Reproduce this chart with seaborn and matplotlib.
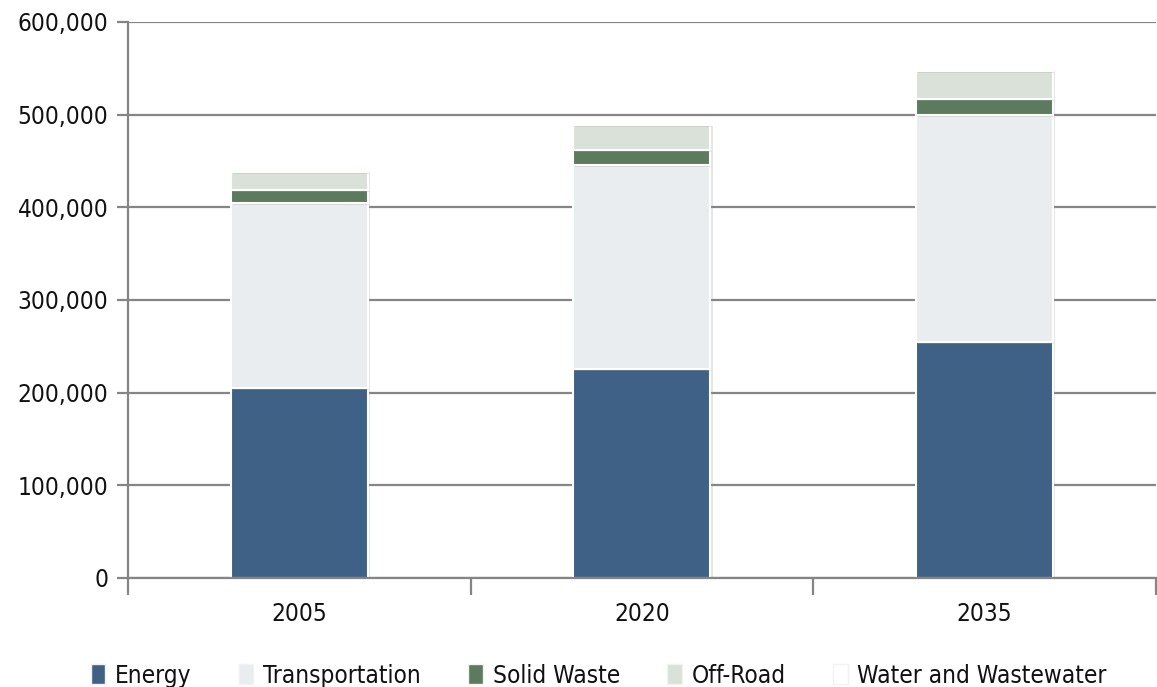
import matplotlib
matplotlib.use("Agg")
import matplotlib.pyplot as plt
import matplotlib.patheffects as pe
from matplotlib.ticker import FuncFormatter, FixedLocator
from matplotlib.patches import Patch
import seaborn as sns
import pandas as pd

# [Data]=========================================================================
years = ["2005", "2020", "2035"]
sectors = ["Energy", "Transportation", "Solid Waste", "Off-Road", "Water and Wastewater"]
energy = [205000, 225500, 254700]
transportation = [199500, 220500, 245300]
solid_waste = [14000, 16000, 17000]
off_road = [20000, 26500, 30500]
water = [1500, 1500, 1500]
colors = ["#3f6186", "#e9edf0", "#5c7a5e", "#d9e1d8", "#ffffff"]

values = [energy, transportation, solid_waste, off_road, water]

# [Plot]=========================================================================
sns.set_style("white")
plt.rcParams['font.family'] = ['DejaVu Sans']
plt.rcParams['font.stretch'] = 'condensed'
plt.rcParams['text.color'] = '#111111'
plt.rcParams['xtick.labelcolor'] = '#111111'
plt.rcParams['ytick.labelcolor'] = '#111111'

fig, ax = plt.subplots(figsize=(11.57, 6.87), dpi=100)
fig.subplots_adjust(left=0.1106, right=0.999, top=0.968, bottom=0.1587)

bottom = [0, 0, 0]
for name, vals, col in zip(sectors, values, colors):
    df = pd.DataFrame({"year": years, "value": vals})
    sns.barplot(data=df, x="year", y="value", color=col, bottom=bottom,
                width=0.4, edgecolor="white", linewidth=1.5,
                saturation=1, ax=ax)
    bottom = [b + v for b, v in zip(bottom, vals)]

# faint drop shadow around the bars, like the original
for p in ax.patches:
    p.set_path_effects([pe.SimplePatchShadow(offset=(1.5, -1.5), shadow_rgbFace="#9a9a9a", alpha=0.25),
                        pe.Normal()])

ax.set_ylim(0, 600000)
ax.set_xlim(-0.5, 2.5)
ax.set_yticks(range(0, 600001, 100000))
ax.yaxis.set_major_formatter(FuncFormatter(lambda v, p: f"{int(v):,}"))
ax.grid(axis="y", color="#858585", linewidth=1.6)
ax.set_axisbelow(True)

for s in ["top", "right"]:
    ax.spines[s].set_visible(False)
for s in ["left", "bottom"]:
    ax.spines[s].set_color("#858585")
    ax.spines[s].set_linewidth(1.6)

ax.tick_params(axis="y", which="major", left=True, length=8, width=1.6,
               color="#858585", labelsize=17.5, pad=6)
ax.tick_params(axis="x", which="major", length=0, labelsize=17.5, pad=17)
ax.xaxis.set_minor_locator(FixedLocator([-0.5, 0.5, 1.5, 2.5]))
ax.tick_params(axis="x", which="minor", bottom=True, length=12, width=1.6,
               color="#858585")
ax.set_xlabel("")
ax.set_ylabel("")

handles = [Patch(facecolor=c, edgecolor="#f2f2f2", label=n) for n, c in zip(sectors, colors)]
leg = ax.legend(handles=handles, loc="upper center", bbox_to_anchor=(0.458, -0.115),
                ncol=5, frameon=False, fontsize=17.5, handlelength=0.6,
                handleheight=0.9, handletextpad=0.4, columnspacing=1.95)

fig.savefig("out.png", dpi=100)
